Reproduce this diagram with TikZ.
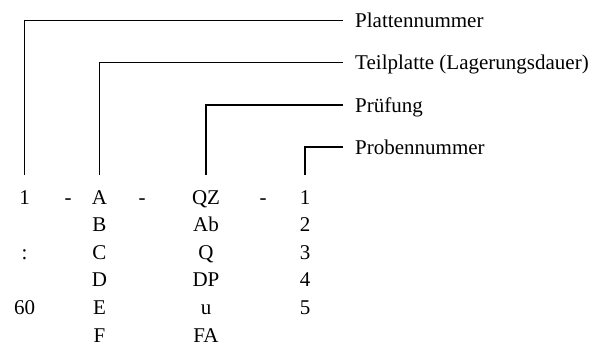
\documentclass[tikz,border=0pt]{standalone}
\usepackage{fontspec}
\setmainfont{Liberation Serif}
\begin{document}
\begin{tikzpicture}[x=1pt,y=1pt,
  lbl/.style={anchor=west, inner xsep=12pt, inner ysep=0pt, text height=14pt, text depth=0pt, font=\fontsize{21}{25}\selectfont},
  cell/.style={anchor=base, inner sep=0pt, text height=14pt, text depth=0pt, font=\fontsize{21}{25}\selectfont},
  conn/.style={line width=1.4pt}]
\useasboundingbox (0,0) rectangle (593,-345);
% labels
\node[lbl] (l1) at (343,-20.5) {Plattennummer};
\node[lbl] (l2) at (343,-62.5) {Teilplatte (Lagerungsdauer)};
\node[lbl] (l3) at (343,-105) {Prüfung};
\node[lbl] (l4) at (343,-147) {Probennummer};
% row 1
\node[cell] (r1a) at (24.5,-204) {1};
\node[cell] (r1h1) at (68,-204) {-};
\node[cell] (r1b) at (99.5,-204) {A};
\node[cell] (r1h2) at (142,-204) {-};
\node[cell] (r1c) at (206,-204) {QZ};
\node[cell] (r1h3) at (263,-204) {-};
\node[cell] (r1d) at (305,-204) {1};
% row 2
\node[cell] (r2b) at (99.5,-231.6) {B};
\node[cell] (r2c) at (206,-231.6) {Ab};
\node[cell] (r2d) at (305,-231.6) {2};
% row 3
\node[cell] (r3a) at (24.5,-259.2) {:};
\node[cell] (r3b) at (99.5,-259.2) {C};
\node[cell] (r3c) at (206,-259.2) {Q};
\node[cell] (r3d) at (305,-259.2) {3};
% row 4
\node[cell] (r4b) at (99.5,-286.8) {D};
\node[cell] (r4c) at (206,-286.8) {DP};
\node[cell] (r4d) at (305,-286.8) {4};
% row 5
\node[cell] (r5a) at (24.5,-314.4) {60};
\node[cell] (r5b) at (99.5,-314.4) {E};
\node[cell] (r5c) at (206,-314.4) {u};
\node[cell] (r5d) at (305,-314.4) {5};
% row 6
\node[cell] (r6b) at (99.5,-342) {F};
\node[cell] (r6c) at (206,-342) {FA};
% connectors
\draw[conn] (l1.west) -| ([yshift=15pt]r1a.north);
\draw[conn] (l2.west) -| ([yshift=15pt]r1b.north);
\draw[conn] (l3.west) -| ([yshift=15pt]r1c.north);
\draw[conn] (l4.west) -| ([yshift=15pt]r1d.north);
\end{tikzpicture}
\end{document}
